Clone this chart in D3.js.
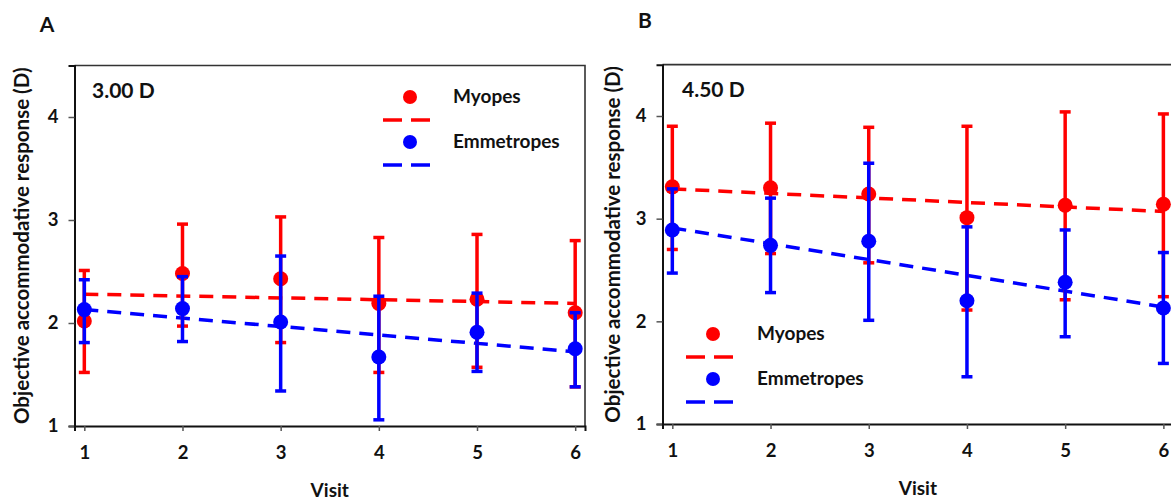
<!DOCTYPE html>
<html>
<head>
<meta charset="utf-8">
<script src="https://cdn.jsdelivr.net/npm/d3@7"></script>
<style>
  html, body { margin: 0; padding: 0; background: #fff; }
  svg { display: block; }
  text { font-family: Lato, "Open Sans", sans-serif; font-weight: bold; fill: #111; }
</style>
</head>
<body>
<svg id="chart" width="1171" height="500"></svg>
<script>
// ---------- data ----------
const visits = [1, 2, 3, 4, 5, 6];
const yTicks = [1, 2, 3, 4];
const seriesNames = ["Myopes", "Emmetropes"];
const panelLetters = ["A", "B"];
const panelTitles = ["3.00 D", "4.50 D"];

// Panel A (3.00 D)
const myopesA    = [2.02, 2.48, 2.43, 2.19, 2.23, 2.10];
const myopesAHi  = [2.51, 2.96, 3.03, 2.83, 2.86, 2.80];
const myopesALo  = [1.52, 1.97, 1.81, 1.52, 1.57, 1.38];
const emmA       = [2.13, 2.14, 2.01, 1.67, 1.91, 1.75];
const emmAHi     = [2.42, 2.45, 2.65, 2.26, 2.29, 2.10];
const emmALo     = [1.81, 1.82, 1.34, 1.06, 1.53, 1.38];
const trendMyopesA = [2.28, 2.19];   // fitted values at visit 1 and visit 6
const trendEmmA    = [2.13, 1.72];

// Panel B (4.50 D)
const myopesB    = [3.31, 3.30, 3.24, 3.01, 3.13, 3.14];
const myopesBHi  = [3.90, 3.93, 3.89, 3.90, 4.04, 4.02];
const myopesBLo  = [2.70, 2.66, 2.57, 2.11, 2.21, 2.24];
const emmB       = [2.89, 2.74, 2.78, 2.20, 2.38, 2.13];
const emmBHi     = [3.29, 3.20, 3.54, 2.92, 2.89, 2.67];
const emmBLo     = [2.47, 2.28, 2.01, 1.46, 1.85, 1.59];
const trendMyopesB = [3.29, 3.07];
const trendEmmB    = [2.91, 2.14];

// ---------- layout ----------
const RED = "#ff0000", BLUE = "#0000ff";
const svg = d3.select("#chart");

const panels = [
  {
    letter: panelLetters[0], title: panelTitles[0],
    left: 74.5, right: 585, y1px: 426, y4px: 117,
    letterPos: [47, 32], titlePos: [92, 98], yTitleX: 29, visitY: 497,
    legend: { cx: 410, textX: 453, y0: 97 },
    series: [
      { name: seriesNames[0], color: RED,  mean: myopesA, hi: myopesAHi, lo: myopesALo, trend: trendMyopesA },
      { name: seriesNames[1], color: BLUE, mean: emmA,    hi: emmAHi,    lo: emmALo,    trend: trendEmmA }
    ]
  },
  {
    letter: panelLetters[1], title: panelTitles[1],
    left: 662.5, right: 1173.2, y1px: 424, y4px: 116,
    letterPos: [645, 28], titlePos: [682, 97], yTitleX: 620, visitY: 495,
    legend: { cx: 713, textX: 757, y0: 334 },
    series: [
      { name: seriesNames[0], color: RED,  mean: myopesB, hi: myopesBHi, lo: myopesBLo, trend: trendMyopesB },
      { name: seriesNames[1], color: BLUE, mean: emmB,    hi: emmBHi,    lo: emmBLo,    trend: trendEmmB }
    ]
  }
];

panels.forEach(p => {
  const x = d3.scaleLinear().domain([0.9, 6.1]).range([p.left, p.right]);
  const unit = (p.y1px - p.y4px) / 3;
  const y = d3.scaleLinear().domain([1, 4.5]).range([p.y1px, p.y1px - 3.5 * unit]);
  const g = svg.append("g");

  // frame (top + right)
  g.append("path")
    .attr("d", `M${x(0.9)},${y(4.5)}H${x(6.1)}V${y(1)}`)
    .attr("fill", "none").attr("stroke", "#333").attr("stroke-width", 1.6);

  // axes
  const yAxis = g.append("g").attr("transform", `translate(${x(0.9)},0)`)
    .call(d3.axisLeft(y).tickValues(yTicks).tickFormat(d3.format("d")).tickSize(6).tickPadding(10));
  const xAxis = g.append("g").attr("transform", `translate(0,${y(1)})`)
    .call(d3.axisBottom(x).tickValues(visits).tickFormat(d3.format("d")).tickSize(5).tickPadding(15));
  [yAxis, xAxis].forEach(a => {
    a.select(".domain").attr("stroke", "#111").attr("stroke-width", 2);
    a.selectAll(".tick line").attr("stroke", "#555").attr("stroke-width", 1.5);
    a.selectAll(".tick text").attr("font-size", 18.5).attr("font-weight", "bold")
      .attr("font-family", "Lato, sans-serif").attr("fill", "#111");
  });

  // trend lines
  p.series.forEach(s => {
    g.append("line")
      .attr("x1", x(visits[0])).attr("y1", y(s.trend[0]))
      .attr("x2", x(visits[visits.length - 1])).attr("y2", y(s.trend[1]))
      .attr("stroke", s.color).attr("stroke-width", 3.5).attr("stroke-dasharray", "14,9");
  });

  // error bars + points
  p.series.forEach(s => {
    const eg = g.append("g");
    visits.forEach((v, i) => {
      eg.append("line").attr("x1", x(v)).attr("x2", x(v))
        .attr("y1", y(s.hi[i])).attr("y2", y(s.lo[i]))
        .attr("stroke", s.color).attr("stroke-width", 3.5);
      [s.hi[i], s.lo[i]].forEach(c => {
        eg.append("line").attr("x1", x(v) - 5.5).attr("x2", x(v) + 5.5)
          .attr("y1", y(c)).attr("y2", y(c))
          .attr("stroke", s.color).attr("stroke-width", 3.5);
      });
    });
    eg.selectAll("circle").data(s.mean).enter().append("circle")
      .attr("cx", (d, i) => x(visits[i])).attr("cy", d => y(d))
      .attr("r", 7.5).attr("fill", s.color);
  });

  // legend
  p.series.forEach((s, k) => {
    const cy = p.legend.y0 + k * 45;
    g.append("circle").attr("cx", p.legend.cx).attr("cy", cy).attr("r", 7).attr("fill", s.color);
    g.append("line").attr("x1", p.legend.cx - 27).attr("x2", p.legend.cx + 20)
      .attr("y1", cy + 23).attr("y2", cy + 23)
      .attr("stroke", s.color).attr("stroke-width", 3.5).attr("stroke-dasharray", "19,9");
    g.append("text").attr("x", p.legend.textX).attr("y", cy + 6)
      .attr("font-size", 19).text(s.name);
  });

  // titles
  g.append("text").attr("x", p.titlePos[0]).attr("y", p.titlePos[1])
    .attr("font-size", 21).text(p.title);
  g.append("text").attr("x", p.letterPos[0]).attr("y", p.letterPos[1])
    .attr("text-anchor", "middle").attr("font-size", 21).text(p.letter);
  g.append("text").attr("x", (p.left + p.right) / 2).attr("y", p.visitY)
    .attr("text-anchor", "middle").attr("font-size", 19).text("Visit");
  g.append("text")
    .attr("transform", `translate(${p.yTitleX},${(y(1) + y(4.5)) / 2}) rotate(-90)`)
    .attr("text-anchor", "middle").attr("font-size", 20.5)
    .text("Objective accommodative response (D)");
});
</script>
</body>
</html>
